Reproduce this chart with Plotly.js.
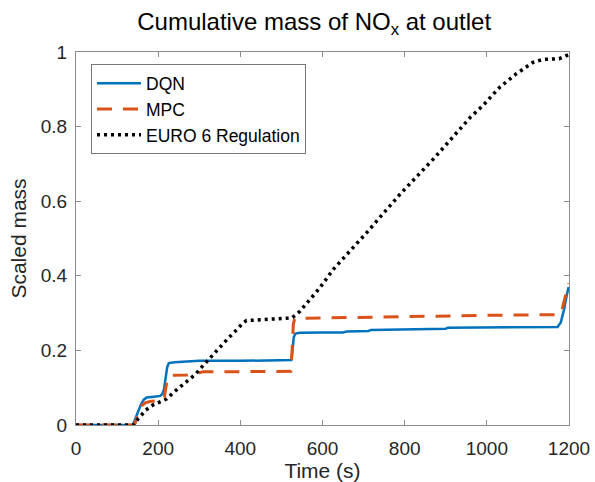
<!DOCTYPE html>
<html>
<head>
<meta charset="utf-8">
<script src="https://cdn.plot.ly/plotly-3.0.1.min.js"></script>
<style>html,body{margin:0;padding:0;background:#fff;}#chart{width:595px;height:482px;}</style>
</head>
<body>
<div id="chart"></div>
<script>
// Series names
var seriesNames = ["DQN", "MPC", "EURO 6 Regulation"];

// DQN
var dqnTime = [0, 138, 142, 150, 158, 165, 172, 190, 205, 210, 214, 218, 222, 226, 240, 270, 300, 400, 500, 524, 527, 530, 534, 545, 600, 650, 660, 700, 712, 718, 800, 900, 905, 1000, 1100, 1172, 1180, 1188, 1194, 1199];
var dqnMass = [0, 0, 0.01, 0.035, 0.055, 0.068, 0.074, 0.076, 0.078, 0.083, 0.095, 0.125, 0.155, 0.166, 0.168, 0.170, 0.172, 0.172, 0.173, 0.174, 0.2, 0.235, 0.245, 0.247, 0.248, 0.248, 0.251, 0.252, 0.252, 0.255, 0.256, 0.258, 0.261, 0.262, 0.262, 0.263, 0.275, 0.31, 0.345, 0.37];

// MPC
var mpcTime = [0, 140, 144, 148, 152, 160, 170, 180, 210, 215, 219, 222, 226, 230, 270, 290, 300, 310, 400, 523, 526, 529, 532, 540, 600, 700, 800, 900, 1000, 1100, 1176, 1182, 1188, 1194, 1199];
var mpcMass = [0, 0, 0.005, 0.02, 0.036, 0.052, 0.06, 0.063, 0.066, 0.075, 0.1, 0.122, 0.13, 0.133, 0.134, 0.136, 0.14, 0.143, 0.143, 0.144, 0.2, 0.27, 0.284, 0.286, 0.287, 0.289, 0.291, 0.292, 0.294, 0.295, 0.296, 0.305, 0.33, 0.36, 0.38];

// EURO 6 Regulation
var euroTime = [0, 140, 150, 170, 188, 205, 221, 240, 269, 290, 310, 330, 350, 370, 391, 405, 415, 450, 500, 525, 535, 545, 593, 626, 707, 788, 869, 926, 960, 990, 1031, 1071, 1112, 1136, 1176, 1193, 1200];
var euroMass = [0, 0, 0.015, 0.04, 0.054, 0.063, 0.07, 0.09, 0.115, 0.135, 0.16, 0.185, 0.21, 0.232, 0.255, 0.272, 0.28, 0.282, 0.284, 0.287, 0.295, 0.305, 0.367, 0.417, 0.515, 0.618, 0.712, 0.782, 0.825, 0.856, 0.905, 0.941, 0.972, 0.98, 0.982, 0.99, 0.992];

// Tick labels
var xTickVals = [0, 200, 400, 600, 800, 1000, 1200];
var xTickText = ["0", "200", "400", "600", "800", "1000", "1200"];
var yTickVals = [0, 0.2, 0.4, 0.6, 0.8, 1];
var yTickText = ["0", "0.2", "0.4", "0.6", "0.8", "1"];

var FONT = "Liberation Sans, Arial, Helvetica, sans-serif";
var AXC = "#8c8c8c";
var TXT = "#262626";

var traces = [
  {x: dqnTime, y: dqnMass, name: seriesNames[0], mode: "lines",
   line: {color: "#0072BD", width: 2.5}},
  {x: mpcTime, y: mpcMass, name: seriesNames[1], mode: "lines",
   line: {color: "#D95319", width: 3, dash: "15px,11px"}},
  {x: euroTime, y: euroMass, name: seriesNames[2], mode: "lines",
   line: {color: "#000000", width: 3.5, dash: "3px,4px"}}
];

var layout = {
  width: 595, height: 482,
  margin: {l: 76, r: 25.5, t: 51.5, b: 57, pad: 0},
  paper_bgcolor: "#fff", plot_bgcolor: "#fff",
  font: {family: FONT, color: TXT},
  title: {text: "Cumulative mass of NO<sub>x</sub> at outlet",
          font: {family: FONT, size: 24, color: "#000"},
          x: 0.528, xanchor: "center", xref: "container",
          y: 1 - 22/482, yanchor: "middle", yref: "container"},
  xaxis: {range: [0, 1200], tickvals: xTickVals, ticktext: xTickText,
          ticks: "inside", ticklen: 5, tickcolor: AXC, tickwidth: 1,
          showline: true, linecolor: AXC, linewidth: 1, mirror: "ticks",
          showgrid: false, zeroline: false,
          tickfont: {family: FONT, size: 19, color: TXT},
          ticklabelstandoff: 6,
          title: {text: "Time (s)", font: {family: FONT, size: 21, color: TXT}, standoff: 4}},
  yaxis: {range: [0, 1], tickvals: yTickVals, ticktext: yTickText,
          ticks: "inside", ticklen: 5, tickcolor: AXC, tickwidth: 1,
          showline: true, linecolor: AXC, linewidth: 1, mirror: "ticks",
          showgrid: false, zeroline: false,
          tickfont: {family: FONT, size: 19, color: TXT},
          ticklabelstandoff: 4,
          title: {text: "Scaled mass", font: {family: FONT, size: 21, color: TXT}, standoff: 8}},
  showlegend: true,
  legend: {x: 0.0304, y: 0.9665, xanchor: "left", yanchor: "top",
           bgcolor: "#fff", bordercolor: "#777", borderwidth: 1,
           font: {family: FONT, size: 17.5, color: "#000"},
           itemwidth: 44, tracegroupgap: 0}
};

Plotly.newPlot("chart", traces, layout, {staticPlot: true, displayModeBar: false});
</script>
</body>
</html>
